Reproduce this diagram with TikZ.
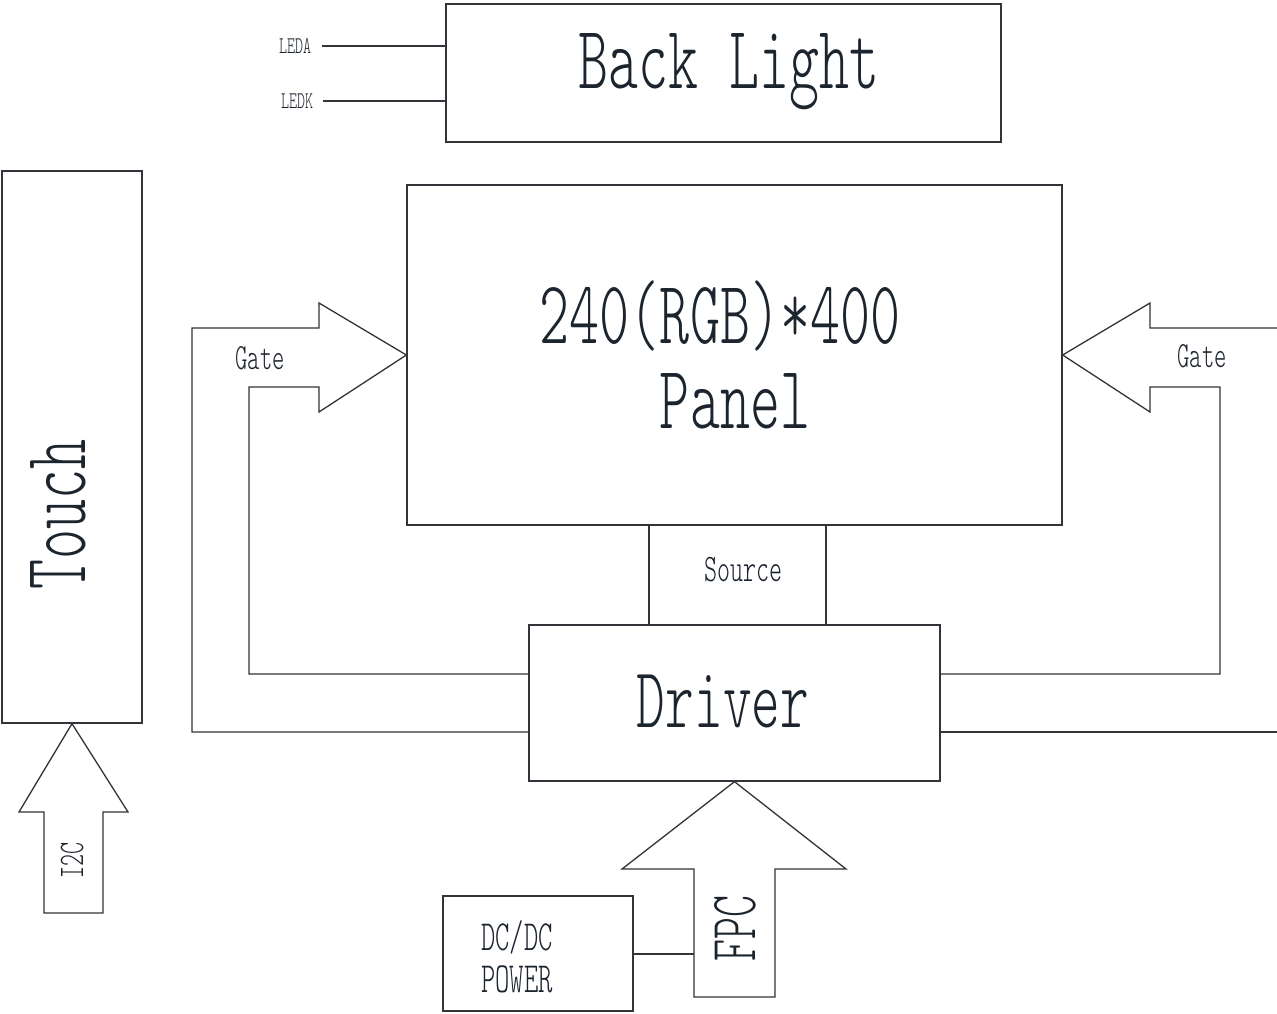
\documentclass[tikz,border=0pt]{standalone}
\usepackage{fontspec}
\setmainfont{Latin Modern Mono Light}[FakeStretch=0.635]
\definecolor{linec}{RGB}{50,52,58}
\definecolor{textc}{RGB}{28,36,46}
\newcommand\fsz[1]{\fontsize{#1}{#1}\selectfont}
\begin{document}
\begin{tikzpicture}[x=1pt,y=-1pt,
  ln/.style={draw=linec, line width=1.3pt, line join=miter},
  box/.style={ln, inner sep=0pt, rectangle},
  txt/.style={text=textc, inner sep=0pt, anchor=base}]
\useasboundingbox (0,0) rectangle (1277,1013);
\fill[white] (0,0) rectangle (1277,1013);
% boxes
\node[box, minimum width=555pt, minimum height=138pt] (bl) at (723.5,73) {};
\node[box, minimum width=140pt, minimum height=552pt] (touch) at (72,447) {};
\node[box, minimum width=655pt, minimum height=340pt] (panel) at (734.5,355) {};
\node[box, minimum width=411pt, minimum height=156pt] (driver) at (734.5,703) {};
\node[box, minimum width=190pt, minimum height=115pt] (dc) at (538,953.5) {};
% texts
\node[txt] (tbl) at (729,88) {\fsz{90}Back Light};
\node[txt] (tres) at (720,343) {\fsz{90}240(RGB)*400};
\node[txt] (tpanel) at (735,428) {\fsz{90}Panel};
\node[txt] (tdriver) at (723,727) {\fsz{86}Driver};
\node[txt, rotate=90] (ttouch) at (85,514) {\fsz{90}Touch};
\node[txt] (tgl) at (260,369) {\fsz{37}Gate};
\node[txt] (tgr) at (1202,367) {\fsz{37}Gate};
\node[txt] (tsrc) at (743,581) {\fsz{39}Source};
\node[txt] (tleda) at (295,53) {\fsz{24}LEDA};
\node[txt] (tledk) at (297,108) {\fsz{24}LEDK};
\node[txt] (tdc1) at (517,950) {\fsz{43}DC/DC};
\node[txt] (tdc2) at (517,992) {\fsz{43}POWER};
\node[txt, rotate=90] (tfpc) at (755,928) {\fsz{66}FPC};
\node[txt, rotate=90] (ti2c) at (83,860) {\fsz{36}I2C};
% backlight leads
\coordinate (la) at (322,46);
\coordinate (lk) at (323,101);
\draw[ln] (la) -- (bl.west |- la);
\draw[ln] (lk) -- (bl.west |- lk);
% source lines
\coordinate (s1) at (649,525);
\coordinate (s2) at (826,525);
\draw[ln] (s1) -- (s1 |- driver.north);
\draw[ln] (s2) -- (s2 |- driver.north);
% left gate arrow
\coordinate (gl1) at (192,732);
\coordinate (gl2) at (249,674);
\coordinate (gtip) at (407,355);
\draw[ln] (driver.west |- gl1) -- (gl1) -- (192,328) -- (319,328) -- (319,303) -- (panel.west |- gtip)
  -- (319,412) -- (319,387) -- (249,387) -- (gl2) -- (driver.west |- gl2);
% right gate arrow
\coordinate (gr1) at (1277,328);
\coordinate (gr2) at (1220,674);
\coordinate (gr3) at (1277,732);
\draw[ln] (gr1) -- (1150,328) -- (1150,303) -- (panel.east |- gtip)
  -- (1150,412) -- (1150,387) -- (1220,387) -- (gr2) -- (driver.east |- gr2);
\draw[ln] (driver.east |- gr3) -- (gr3);
% FPC arrow
\draw[ln] (driver.south) -- (846,869) -- (775,869) -- (775,997) -- (694,997) -- (694,869) -- (622,869) -- cycle;
\coordinate (fp) at (694,954);
\draw[ln] (dc.east |- fp) -- (fp);
% I2C arrow
\draw[ln] (touch.south) -- (128,812) -- (103,812) -- (103,913) -- (44,913) -- (44,812) -- (19,812) -- cycle;
\end{tikzpicture}
\end{document}
